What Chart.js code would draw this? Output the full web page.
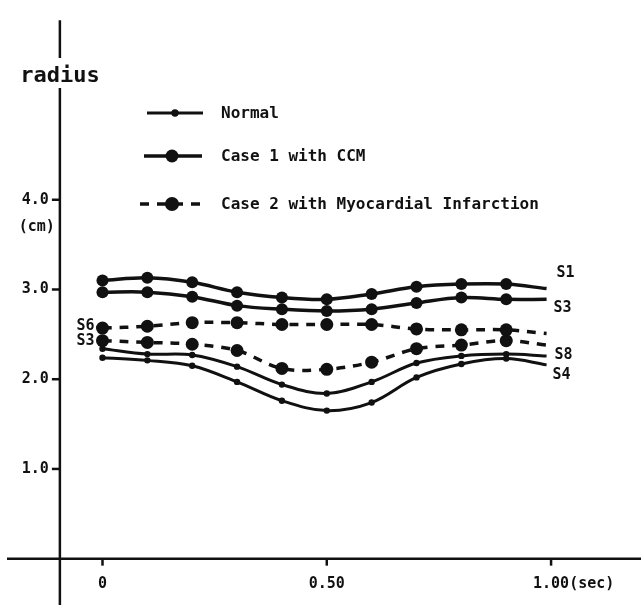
<!DOCTYPE html>
<html>
<head>
<meta charset="utf-8">
<script src="https://cdn.jsdelivr.net/npm/chart.js@4.4.1/dist/chart.umd.min.js"></script>
<style>
  html, body { margin: 0; padding: 0; background: #fff; }
  canvas { display: block; }
</style>
</head>
<body>
<canvas id="radiusChart" width="641" height="605"></canvas>
<script>
// time (sec); the last entry is where each trace stops (no marker drawn there)
const times = [0, 0.1, 0.2, 0.3, 0.4, 0.5, 0.6, 0.7, 0.8, 0.9, 0.99];

// radius (cm) per segment
const normalS8 = [2.34, 2.28, 2.27, 2.14, 1.94, 1.84, 1.97, 2.18, 2.26, 2.28, 2.26];
const normalS4 = [2.24, 2.21, 2.15, 1.97, 1.76, 1.65, 1.74, 2.02, 2.17, 2.23, 2.16];
const ccmS1 = [3.10, 3.13, 3.08, 2.97, 2.91, 2.89, 2.95, 3.03, 3.06, 3.06, 3.01];
const ccmS3 = [2.97, 2.97, 2.92, 2.82, 2.78, 2.76, 2.78, 2.85, 2.91, 2.89, 2.89];
const miS6 = [2.57, 2.59, 2.63, 2.63, 2.61, 2.61, 2.61, 2.56, 2.55, 2.55, 2.51];
const miS3 = [2.43, 2.41, 2.39, 2.32, 2.12, 2.11, 2.19, 2.34, 2.38, 2.43, 2.38];

const yTicks = [1, 2, 3, 4];
const yTickLabels = ['1.0', '2.0', '3.0', '4.0'];
const xTicks = [0, 0.5, 1.0];
const xTickLabels = ['0', '0.50', '1.00'];

const groupNames = ['Normal', 'Case 1 with CCM', 'Case 2 with Myocardial Infarction'];

const INK = '#111';
const FONT = '"DejaVu Sans Mono", monospace';

const styles = {
    normal: { borderWidth: 3, pointRadius: 3.2, borderDash: [] },
    ccm: { borderWidth: 3.5, pointRadius: 6, borderDash: [] },
    mi: { borderWidth: 3.5, pointRadius: 6.5, borderDash: [9, 8] },
};

function series(name, values, style) {
    const last = values.length - 1;
    return {
        label: name,
        data: values.map((v, i) => ({ x: times[i], y: v })),
        borderColor: INK,
        backgroundColor: INK,
        borderWidth: style.borderWidth,
        borderDash: style.borderDash,
        pointRadius: (c) => (c.dataIndex === last ? 0 : style.pointRadius),
        pointHoverRadius: 0,
        pointBorderWidth: 0,
        tension: 0.35,
    };
}

// segment names written beside the traces: dataset index, end of the trace, offset in px
const segmentTags = [
    { ds: 2, text: 'S1', end: 'right', dx: 10, dy: -15 },
    { ds: 3, text: 'S3', end: 'right', dx: 7, dy: 9 },
    { ds: 4, text: 'S6', end: 'left', dx: -8, dy: -2 },
    { ds: 5, text: 'S3', end: 'left', dx: -8, dy: 0 },
    { ds: 0, text: 'S8', end: 'right', dx: 8, dy: -1 },
    { ds: 1, text: 'S4', end: 'right', dx: 6, dy: 10 },
];

const axesPlugin = {
    id: 'plainAxes',
    afterDraw(chart) {
        const { ctx } = chart;
        const xs = chart.scales.x;
        const ys = chart.scales.y;
        const ax = xs.getPixelForValue(-0.095);
        const ay = ys.getPixelForValue(0);

        ctx.save();
        ctx.strokeStyle = INK;
        ctx.fillStyle = INK;
        ctx.lineWidth = 2.5;
        ctx.lineCap = 'butt';

        // vertical axis, broken where the "radius" caption sits
        ctx.beginPath();
        ctx.moveTo(ax, ys.getPixelForValue(6.0));
        ctx.lineTo(ax, 58);
        ctx.moveTo(ax, 88);
        ctx.lineTo(ax, chart.height);
        // horizontal axis
        ctx.moveTo(7, ay);
        ctx.lineTo(chart.width, ay);
        ctx.stroke();

        ctx.font = 'bold 22px ' + FONT;
        ctx.textAlign = 'center';
        ctx.textBaseline = 'alphabetic';
        ctx.fillText('radius', 60, 82);

        // y ticks
        ctx.lineWidth = 2.5;
        ctx.font = 'bold 15px ' + FONT;
        ctx.textAlign = 'right';
        ctx.textBaseline = 'middle';
        yTicks.forEach((v, i) => {
            const py = ys.getPixelForValue(v);
            ctx.beginPath();
            ctx.moveTo(ax - 8, py);
            ctx.lineTo(ax, py);
            ctx.stroke();
            ctx.fillText(yTickLabels[i], ax - 11, py);
        });
        ctx.fillText('(cm)', ax - 5, ys.getPixelForValue(4) + 27);

        // x ticks
        ctx.textAlign = 'center';
        xTicks.forEach((v, i) => {
            const px = xs.getPixelForValue(v);
            ctx.beginPath();
            ctx.moveTo(px, ay);
            ctx.lineTo(px, ay + 7);
            ctx.stroke();
            ctx.fillText(xTickLabels[i], px, ay + 25);
            if (i === xTicks.length - 1) {
                const w = ctx.measureText(xTickLabels[i]).width;
                ctx.textAlign = 'left';
                ctx.fillText('(sec)', px + w / 2, ay + 25);
                ctx.textAlign = 'center';
            }
        });

        // segment names
        segmentTags.forEach((t) => {
            const pts = chart.getDatasetMeta(t.ds).data;
            const p = t.end === 'right' ? pts[pts.length - 1] : pts[0];
            ctx.textAlign = t.end === 'right' ? 'left' : 'right';
            ctx.fillText(t.text, p.x + t.dx, p.y + t.dy);
        });

        // legend
        const rows = [
            { name: groupNames[0], st: styles.normal, x1: 147, x2: 203, dot: 175, y: 113 },
            { name: groupNames[1], st: styles.ccm, x1: 144, x2: 202, dot: 172, y: 156 },
            { name: groupNames[2], st: styles.mi, x1: 140, x2: 207, dot: 172, y: 204 },
        ];
        ctx.font = 'bold 16px ' + FONT;
        ctx.textAlign = 'left';
        rows.forEach((r) => {
            ctx.lineWidth = r.st.borderWidth;
            ctx.setLineDash(r.st.borderDash);
            ctx.beginPath();
            ctx.moveTo(r.x1, r.y);
            ctx.lineTo(r.x2, r.y);
            ctx.stroke();
            ctx.setLineDash([]);
            ctx.beginPath();
            ctx.arc(r.dot, r.y, r.st.pointRadius + 0.5, 0, Math.PI * 2);
            ctx.fill();
            ctx.fillText(r.name, 221, r.y + 1);
        });

        ctx.restore();
    },
};

new Chart(document.getElementById('radiusChart'), {
    type: 'line',
    data: {
        datasets: [
            series('Normal S8', normalS8, styles.normal),
            series('Normal S4', normalS4, styles.normal),
            series('CCM S1', ccmS1, styles.ccm),
            series('CCM S3', ccmS3, styles.ccm),
            series('MI S6', miS6, styles.mi),
            series('MI S3', miS3, styles.mi),
        ],
    },
    options: {
        responsive: false,
        animation: false,
        events: [],
        layout: { padding: 0 },
        plugins: { legend: { display: false }, tooltip: { enabled: false } },
        scales: {
            x: { type: 'linear', min: -0.214, max: 1.186, display: false },
            y: { type: 'linear', min: -0.444, max: 6.154, display: false },
        },
    },
    plugins: [axesPlugin],
});
</script>
</body>
</html>
